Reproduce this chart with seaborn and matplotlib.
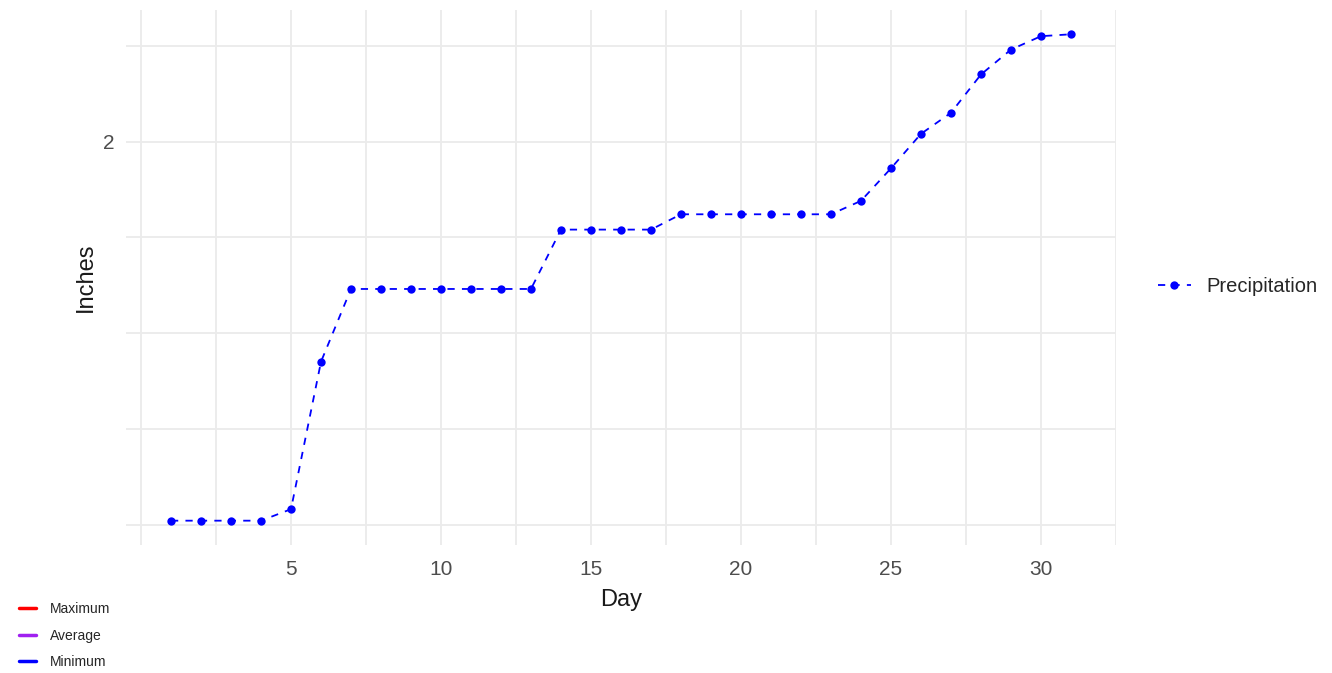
import numpy as np
import pandas as pd
import matplotlib
matplotlib.use("Agg")
import matplotlib.pyplot as plt
from matplotlib.lines import Line2D
import seaborn as sns

# cumulative precipitation for the month (inches)
days = list(range(1, 32))
precip = [0.02, 0.02, 0.02, 0.02, 0.08, 0.85, 1.23, 1.23, 1.23, 1.23,
          1.23, 1.23, 1.23, 1.54, 1.54, 1.54, 1.54, 1.62, 1.62, 1.62,
          1.62, 1.62, 1.62, 1.69, 1.86, 2.04, 2.15, 2.35, 2.48, 2.55, 2.56]
x_ticks = [5, 10, 15, 20, 25, 30]
x_minor = [0, 2.5, 7.5, 12.5, 17.5, 22.5, 27.5, 32.5]
y_ticks = [2]
y_minor = [0, 0.5, 1.0, 1.5, 2.5]
temp_labels = ["Maximum", "Average", "Minimum"]
temp_colors = ["#FF0000", "#A020F0", "#0000FF"]

df = pd.DataFrame({"Day": days, "Inches": precip, "series": "Precipitation"})

sns.set_theme(style="white")
plt.rcParams['font.family'] = ['Liberation Sans', 'DejaVu Sans']

fig = plt.figure(figsize=(13.32, 6.73), dpi=100)
ax = fig.add_axes([0.0946, 0.1902, 0.7432, 0.795])

sns.lineplot(data=df, x="Day", y="Inches", ax=ax, color="#0000FF",
             marker="o", markersize=6, markeredgewidth=0, linewidth=1.3,
             linestyle=(0, (4, 4)), legend=False)

ax.set_xlim(-0.5, 32.5)
ax.set_ylim(-0.107, 2.687)
ax.set_xticks(x_ticks)
ax.set_xticks(x_minor, minor=True)
ax.set_yticks(y_ticks)
ax.set_yticks(y_minor, minor=True)
ax.grid(True, which="both", color="#EBEBEB", linewidth=1.3)
ax.set_axisbelow(True)
ax.tick_params(which="both", length=0)
ax.tick_params(axis="x", labelsize=15, labelcolor="#4D4D4D", pad=11)
ax.tick_params(axis="y", labelsize=15, labelcolor="#4D4D4D", pad=8)
for s in ax.spines.values():
    s.set_visible(False)
ax.set_xlabel("Day", fontsize=17, color="#1A1A1A", labelpad=7)
ax.set_ylabel("Inches", fontsize=17, color="#1A1A1A", labelpad=5)

# right legend
h = [Line2D([], [], color="#0000FF", linestyle=(0, (4, 4)), linewidth=1.3,
            marker="o", markersize=6, markeredgewidth=0)]
fig.legend(h, ["Precipitation"], loc="center left",
           bbox_to_anchor=(0.856, 0.574), frameon=False, fontsize=14.5,
           handlelength=1.6, handletextpad=0.8)

# bottom-left legend
h2 = [Line2D([], [], color=c, linewidth=2.5) for c in temp_colors]
fig.legend(h2, temp_labels, loc="lower left", bbox_to_anchor=(0.005, -0.013),
           frameon=False, fontsize=10, handlelength=1.2, handletextpad=1.0,
           labelspacing=0.9)

fig.savefig("out.png", dpi=100)
